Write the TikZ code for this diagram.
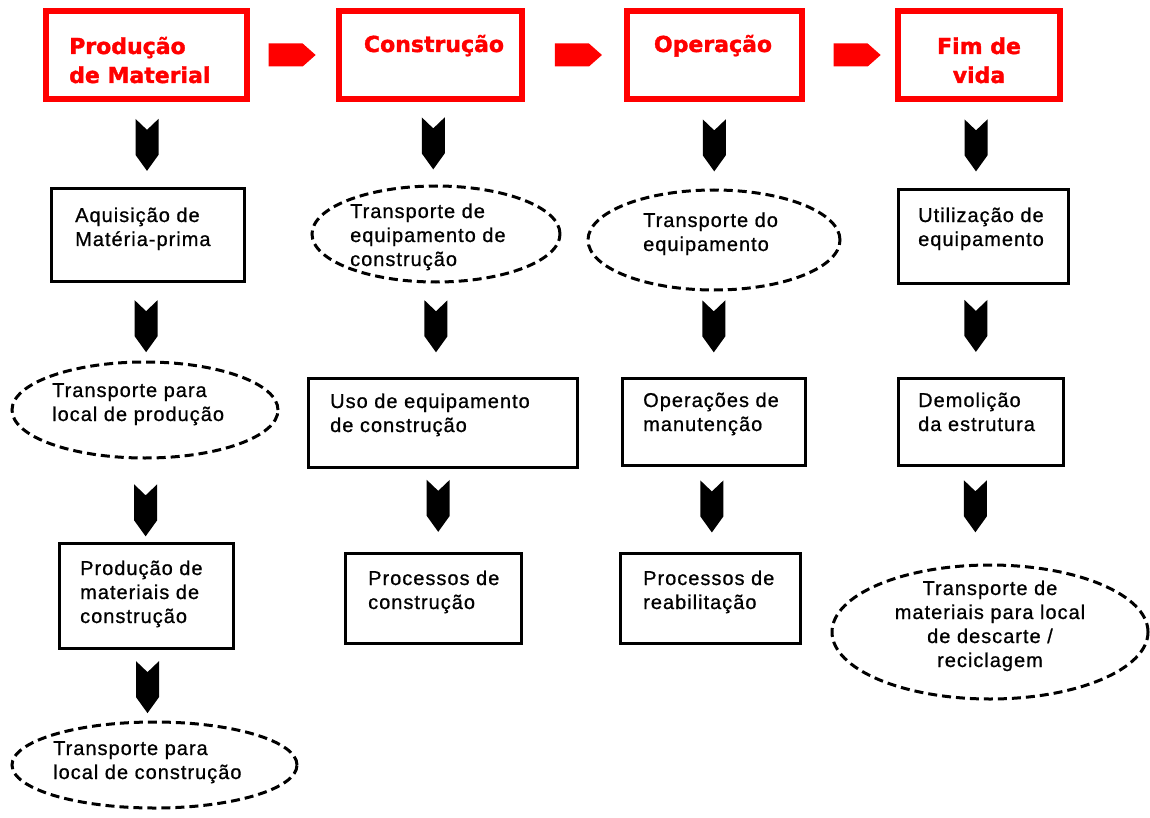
\documentclass[tikz,border=0pt]{standalone}
\usepackage{fontspec}
\setmainfont{Liberation Sans}[LetterSpace=5, FakeBold=0.8]
\newfontfamily\headfont{DejaVu Sans}[BoldFeatures={FakeBold=1.6}]
\usetikzlibrary{calc,shapes.geometric}

\tikzset{
  phasebox/.style={draw=red, line width=6.5pt, inner sep=0pt},
  stagebox/.style={draw=black, line width=3pt, inner sep=0pt},
  transport/.style={ellipse, draw=black, line width=3pt, dash pattern=on 9pt off 5pt, inner sep=0pt},
  headtxt/.style={anchor=base, inner sep=0pt, text=red, font=\headfont\bfseries\fontsize{22}{29}\selectfont},
  bodytxt/.style={anchor=base west, align=left, inner sep=0pt, font=\fontsize{20}{24}\selectfont},
  downchev/.pic={\fill[black] (-11.5,-26) -- (0,-15) -- (11.5,-26) -- (11.5,10) -- (0,26) -- (-11.5,10) -- cycle;},
  nextphase/.pic={\fill[red] (-23.5,-11.5) -- (10.5,-11.5) -- (23.5,0) -- (10.5,11.5) -- (-23.5,11.5) -- cycle;},
}

\begin{document}
\begin{tikzpicture}[x=1pt, y=-1pt]
\useasboundingbox (0,0) rectangle (1150,818);

% phase headers (text nodes sit on the baseline of their last line)
\node[phasebox, minimum width=201pt, minimum height=88pt] (h1) at (146.5,55) {};
\node[phasebox, minimum width=183pt, minimum height=88pt] (h2) at (430.5,55) {};
\node[phasebox, minimum width=175pt, minimum height=88pt] (h3) at (714.5,55) {};
\node[phasebox, minimum width=162pt, minimum height=88pt] (h4) at (979,55) {};
\node[headtxt, anchor=base west, align=left] (h1t) at (69,83) {Produção\\de Material};
\node[headtxt] (h2t) at (434,52) {Construção};
\node[headtxt] (h3t) at (713,52) {Operação};
\node[headtxt, align=center] (h4t) at (979,83) {Fim de\\vida};

% column 1: material production
\node[stagebox, minimum width=193pt, minimum height=92pt] (a1) at (147.5,235) {};
\node[bodytxt] (a1t) at (75,246) {Aquisição de\\Matéria-prima};
\node[transport, minimum width=266pt, minimum height=96pt] (a2) at (145,410) {};
\node[bodytxt] (a2t) at (52,421) {Transporte para\\local de produção};
\node[stagebox, minimum width=174pt, minimum height=105pt] (a3) at (146,595.5) {};
\node[bodytxt] (a3t) at (80,623) {Produção de\\materiais de\\construção};
\node[transport, minimum width=285pt, minimum height=86pt] (a4) at (154.5,765) {};
\node[bodytxt] (a4t) at (53,779) {Transporte para\\local de construção};

% column 2: construction
\node[transport, minimum width=248pt, minimum height=96pt] (b1) at (436,234) {};
\node[bodytxt] (b1t) at (350,266) {Transporte de\\equipamento de\\construção};
\node[stagebox, minimum width=269pt, minimum height=89pt] (b2) at (442.5,422.5) {};
\node[bodytxt] (b2t) at (330,432) {Uso de equipamento\\de construção};
\node[stagebox, minimum width=176pt, minimum height=90pt] (b3) at (433,598) {};
\node[bodytxt] (b3t) at (368,609) {Processos de\\construção};

% column 3: operation
\node[transport, minimum width=252pt, minimum height=100pt] (c1) at (714,240) {};
\node[bodytxt] (c1t) at (643,251) {Transporte do\\equipamento};
\node[stagebox, minimum width=183pt, minimum height=87pt] (c2) at (713.5,421.5) {};
\node[bodytxt] (c2t) at (643,431) {Operações de\\manutenção};
\node[stagebox, minimum width=180pt, minimum height=90pt] (c3) at (710,598) {};
\node[bodytxt] (c3t) at (643,609) {Processos de\\reabilitação};

% column 4: end of life
\node[stagebox, minimum width=170pt, minimum height=93pt] (d1) at (983,236.5) {};
\node[bodytxt] (d1t) at (918,246) {Utilização de\\equipamento};
\node[stagebox, minimum width=165pt, minimum height=87pt] (d2) at (980.5,421.5) {};
\node[bodytxt] (d2t) at (918,431) {Demolição\\da estrutura};
\node[transport, minimum width=316pt, minimum height=134pt] (d3) at (990,632) {};
\node[bodytxt, anchor=base, align=center] (d3t) at (990,667) {Transporte de\\materiais para local\\de descarte /\\reciclagem};

% arrows between phases
\pic at ($(h1.east)!0.49!(h2.west)$) {nextphase};
\pic at ($(h2.east)!0.54!(h3.west)$) {nextphase};
\pic at ($(h3.east)!0.58!(h4.west)$) {nextphase};

% downward chevrons
\pic at ($(h1.south)!0.5!(a1.north)$) {downchev};
\pic at ($(a1.south)!0.56!(a2.north)$) {downchev};
\pic at ($(a2.south)!0.62!(a3.north)$) {downchev};
\pic at ($(a3.south)!0.53!(a4.north) + (-3,0)$) {downchev};

\pic at ($(h2.south)!0.5!(b1.north)$) {downchev};
\pic at ($(b1.south)!0.46!(b2.north) + (-3,0)$) {downchev};
\pic at ($(b2.south)!0.45!(b3.north)$) {downchev};

\pic at ($(h3.south)!0.5!(c1.north)$) {downchev};
\pic at ($(c1.south)!0.41!(c2.north)$) {downchev};
\pic at ($(c2.south)!0.47!(c3.north)$) {downchev};

\pic at ($(h4.south)!0.5!(d1.north) + (-5,0)$) {downchev};
\pic at ($(d1.south)!0.45!(d2.north) + (-6,0)$) {downchev};
\pic at ($(d2.south)!0.41!(d3.north) + (-9,0)$) {downchev};
\end{tikzpicture}
\end{document}
